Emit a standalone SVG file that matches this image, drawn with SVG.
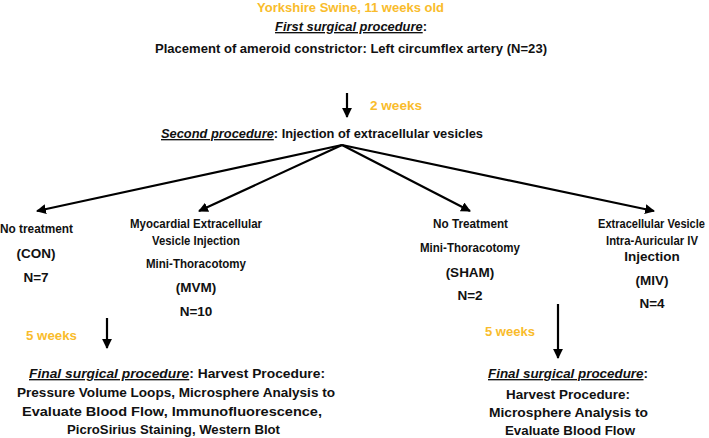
<svg xmlns="http://www.w3.org/2000/svg" width="709" height="438" viewBox="0 0 709 438">
<defs>
<style>
text{font-family:"Liberation Sans",Arial,sans-serif;font-weight:bold;font-size:13.5px;fill:#111}
.or{fill:#F9BC2C}
.c{text-anchor:middle}
.u{font-style:italic;text-decoration:underline}
.ln{stroke:#000;stroke-width:2.2;fill:none}
</style>
<marker id="ah" viewBox="0 0 10 10" refX="9" refY="5" markerWidth="4.5" markerHeight="4.5" orient="auto" markerUnits="strokeWidth">
<path d="M0,0 L10,5 L0,10 z" fill="#000"/>
</marker>
</defs>
<rect width="709" height="438" fill="#fff"/>
<g id="top">
<text class="or" x="257" y="12" textLength="187" lengthAdjust="spacingAndGlyphs">Yorkshire Swine, 11 weeks old</text>
<text x="275" y="31" textLength="152" lengthAdjust="spacingAndGlyphs"><tspan class="u">First surgical procedure</tspan>:</text>
<text x="155" y="53" textLength="392" lengthAdjust="spacingAndGlyphs">Placement of ameroid constrictor: Left circumflex artery (N=23)</text>
</g>
<g id="label-2weeks"><text class="or" x="370" y="110" textLength="52" lengthAdjust="spacingAndGlyphs">2 weeks</text></g>
<g id="second">
<text x="161" y="138" textLength="322" lengthAdjust="spacingAndGlyphs"><tspan class="u">Second procedure</tspan>: Injection of extracellular vesicles</text>
</g>
<g id="con">
<text x="0" y="233" textLength="73" lengthAdjust="spacingAndGlyphs">No treatment</text>
<text class="c" x="36" y="258">(CON)</text>
<text class="c" x="36" y="282">N=7</text>
</g>
<g id="mvm">
<text x="130" y="228" textLength="132" lengthAdjust="spacingAndGlyphs">Myocardial  Extracellular</text>
<text x="152" y="245" textLength="88" lengthAdjust="spacingAndGlyphs">Vesicle  Injection</text>
<text x="146" y="268" textLength="100" lengthAdjust="spacingAndGlyphs">Mini-Thoracotomy</text>
<text class="c" x="196" y="292">(MVM)</text>
<text class="c" x="196" y="316">N=10</text>
</g>
<g id="sham">
<text x="433" y="228" textLength="75" lengthAdjust="spacingAndGlyphs">No Treatment</text>
<text x="420" y="252" textLength="100" lengthAdjust="spacingAndGlyphs">Mini-Thoracotomy</text>
<text class="c" x="470" y="277">(SHAM)</text>
<text class="c" x="470" y="300">N=2</text>
</g>
<g id="miv">
<text x="598" y="228" textLength="107" lengthAdjust="spacingAndGlyphs">Extracellular  Vesicle</text>
<text x="606" y="245" textLength="92" lengthAdjust="spacingAndGlyphs">Intra-Auricular  IV</text>
<text class="c" x="652" y="261">Injection</text>
<text class="c" x="652" y="285">(MIV)</text>
<text class="c" x="652" y="308">N=4</text>
</g>
<g id="label-5weeks-left"><text class="or" x="26" y="340" textLength="51" lengthAdjust="spacingAndGlyphs">5 weeks</text></g>
<g id="final-left">
<text x="29" y="378" textLength="296" lengthAdjust="spacingAndGlyphs"><tspan class="u">Final surgical  procedure</tspan>:  Harvest Procedure:</text>
<text x="17" y="397" textLength="318" lengthAdjust="spacingAndGlyphs">Pressure Volume Loops, Microsphere Analysis to</text>
<text x="22" y="416" textLength="300" lengthAdjust="spacingAndGlyphs">Evaluate Blood Flow,  Immunofluorescence,</text>
<text x="67" y="434" textLength="213" lengthAdjust="spacingAndGlyphs">PicroSirius  Staining, Western Blot</text>
</g>
<g id="label-5weeks-right"><text class="or" x="485" y="336" textLength="50" lengthAdjust="spacingAndGlyphs">5 weeks</text></g>
<g id="final-right">
<text x="488" y="378" textLength="160" lengthAdjust="spacingAndGlyphs"><tspan class="u">Final surgical procedure</tspan>:</text>
<text x="506" y="399" textLength="124" lengthAdjust="spacingAndGlyphs">Harvest Procedure:</text>
<text x="489" y="417" textLength="159" lengthAdjust="spacingAndGlyphs">Microsphere Analysis to</text>
<text x="505" y="435" textLength="130" lengthAdjust="spacingAndGlyphs">Evaluate Blood Flow</text>
</g>
<g id="connectors">
<line class="ln" x1="347" y1="93" x2="347" y2="117" marker-end="url(#ah)"/>
<line class="ln" x1="342" y1="145" x2="37" y2="211" marker-end="url(#ah)"/>
<line class="ln" x1="342" y1="145" x2="199" y2="211" marker-end="url(#ah)"/>
<line class="ln" x1="342" y1="145" x2="470" y2="211" marker-end="url(#ah)"/>
<line class="ln" x1="342" y1="145" x2="654" y2="211" marker-end="url(#ah)"/>
<line class="ln" x1="107" y1="318" x2="107" y2="348" marker-end="url(#ah)"/>
<line class="ln" x1="558" y1="304" x2="558" y2="358" marker-end="url(#ah)"/>
</g>
</svg>
